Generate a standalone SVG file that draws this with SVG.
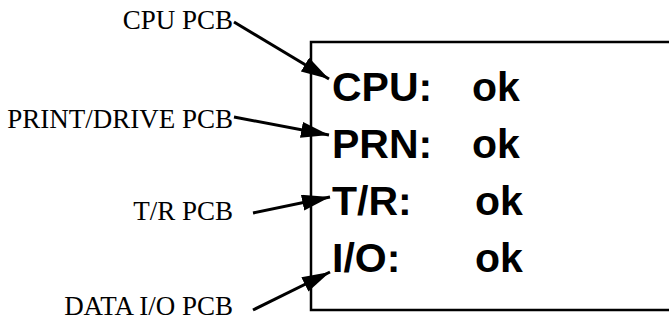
<svg xmlns="http://www.w3.org/2000/svg" width="669" height="320" viewBox="0 0 669 320">
<style>
.lbl{font-family:"Liberation Serif","Times New Roman",serif;font-size:27px;fill:#000;text-anchor:end}
.big{font-family:"Liberation Sans",Arial,sans-serif;font-size:41px;font-weight:bold;fill:#000}
.con{stroke:#000;stroke-width:3;fill:none}
</style>
<defs>
<marker id="ah" markerUnits="userSpaceOnUse" markerWidth="32" markerHeight="18" refX="28" refY="8" orient="auto" viewBox="0 0 32 18">
<path d="M0,0 L28,8 L0,16 Z" fill="#000"/>
</marker>
</defs>
<g id="display">
<path d="M675,42 H311 V310 H675" fill="none" stroke="#000" stroke-width="2.5"/>
<text class="big" x="332" y="101">CPU:</text>
<text class="big" x="472" y="101">ok</text>
<text class="big" x="332" y="158">PRN:</text>
<text class="big" x="472" y="158">ok</text>
<text class="big" x="332" y="215">T/R:</text>
<text class="big" x="475" y="215">ok</text>
<text class="big" x="332" y="272">I/O:</text>
<text class="big" x="475" y="272">ok</text>
</g>
<g id="cpu-pcb"><text class="lbl" x="233" y="29">CPU PCB</text></g>
<g id="print-pcb"><text class="lbl" x="233" y="128">PRINT/DRIVE PCB</text></g>
<g id="tr-pcb"><text class="lbl" x="233" y="220">T/R PCB</text></g>
<g id="dataio-pcb"><text class="lbl" x="233" y="315">DATA I/O PCB</text></g>
<g id="connectors">
<line class="con" x1="234" y1="22" x2="329" y2="79" marker-end="url(#ah)"/>
<line class="con" x1="234" y1="117" x2="329" y2="135" marker-end="url(#ah)"/>
<line class="con" x1="253" y1="213" x2="330" y2="197" marker-end="url(#ah)"/>
<line class="con" x1="253" y1="310" x2="330" y2="272" marker-end="url(#ah)"/>
</g>
</svg>
